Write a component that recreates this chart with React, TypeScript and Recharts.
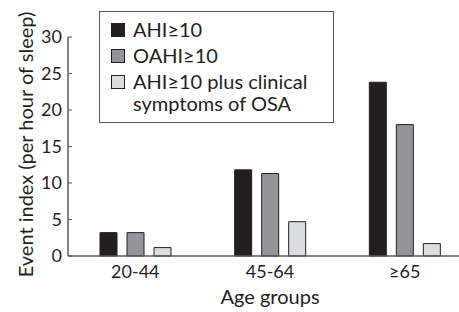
import React from 'react';
import { BarChart, Bar, XAxis, YAxis, Legend } from 'recharts';

const categories = ['20-44', '45-64', '≥65'];
const ahi = [3.2, 11.8, 23.8];
const oahi = [3.2, 11.3, 18.0];
const ahiSymptoms = [1.15, 4.7, 1.7];
const yTicks = [0, 5, 10, 15, 20, 25, 30];

const seriesNames = ['AHI≥10', 'OAHI≥10', 'AHI≥10 plus clinical symptoms of OSA'];
const seriesColors = ['#231f20', '#939598', '#dcddde'];

const data = categories.map((c, i) => ({
  group: c,
  ahi: ahi[i],
  oahi: oahi[i],
  sym: ahiSymptoms[i],
}));

const FONT = 'Lato, "Noto Sans", sans-serif';
const TEXT = '#231f20';

const LegendBox = () => (
  <div
    style={{
      border: '1px solid #58595b',
      width: 235,
      height: 112,
      boxSizing: 'border-box',
      fontFamily: FONT,
      fontSize: 20,
      color: TEXT,
      paddingTop: 6,
      paddingLeft: 11,
      background: '#fff',
      textAlign: 'left',
    }}
  >
    {seriesNames.map((n, i) => (
      <div key={n} style={{ display: 'flex', alignItems: 'flex-start', height: i === 2 ? 46 : 26 }}>
        <div
          style={{
            width: 14,
            height: 14,
            marginTop: 5,
            background: seriesColors[i],
            border: '1px solid #231f20',
            boxSizing: 'border-box',
            flexShrink: 0,
          }}
        />
        <div style={{ marginLeft: 8, lineHeight: '22px', width: 205, whiteSpace: 'nowrap' }}>
          {i === 2 ? (
            <>
              AHI≥10 plus clinical
              <br />
              symptoms of OSA
            </>
          ) : (
            n
          )}
        </div>
      </div>
    ))}
  </div>
);

const YLabel = (props: any) => {
  const vb = props.viewBox || {};
  const x = vb.x + 17;
  const y = vb.y + vb.height / 2 - 2;
  return (
    <text
      x={x}
      y={y}
      transform={`rotate(-90, ${x}, ${y})`}
      textAnchor="middle"
      dominantBaseline="central"
      fontFamily={FONT}
      fontSize={20}
      fill={TEXT}
    >
      Event index (per hour of sleep)
    </text>
  );
};

export default function App() {
  return (
    <div style={{ position: 'absolute', left: 0, top: 0, width: 459, height: 312, overflow: 'hidden', background: '#fff' }}>
      <BarChart
        width={472}
        height={312}
        data={data}
        margin={{ top: 37, right: 0, bottom: 0, left: 8 }}
        barSize={17}
        barGap={10}
      >
        <XAxis
          dataKey="group"
          axisLine={{ stroke: '#58595b', strokeWidth: 1.5 }}
          tickLine={false}
          tickSize={0}
          tickMargin={9}
          height={56}
          tick={{ fontFamily: FONT, fontSize: 18, fill: TEXT }}
          label={{ value: 'Age groups', position: 'insideBottom', offset: 8, fontFamily: FONT, fontSize: 20, fill: TEXT }}
        />
        <YAxis
          width={60}
          domain={[0, 30]}
          ticks={yTicks}
          interval={0}
          axisLine={{ stroke: '#58595b', strokeWidth: 1.5 }}
          tickLine={{ stroke: '#58595b' }}
          tickSize={-4}
          tickMargin={10}
          tick={{ fontFamily: FONT, fontSize: 18, fill: TEXT }}
          label={{ content: YLabel }}
        />
        <Legend
          layout="vertical"
          align="center"
          verticalAlign="middle"
          content={<LegendBox />}
          wrapperStyle={{ position: 'absolute', left: 99, top: 11, width: 235, height: 112 }}
        />
        <Bar dataKey="ahi" name={seriesNames[0]} fill={seriesColors[0]} stroke="#231f20" strokeWidth={1} isAnimationActive={false} />
        <Bar dataKey="oahi" name={seriesNames[1]} fill={seriesColors[1]} stroke="#231f20" strokeWidth={1} isAnimationActive={false} />
        <Bar dataKey="sym" name={seriesNames[2]} fill={seriesColors[2]} stroke="#231f20" strokeWidth={1} isAnimationActive={false} />
      </BarChart>
    </div>
  );
}
